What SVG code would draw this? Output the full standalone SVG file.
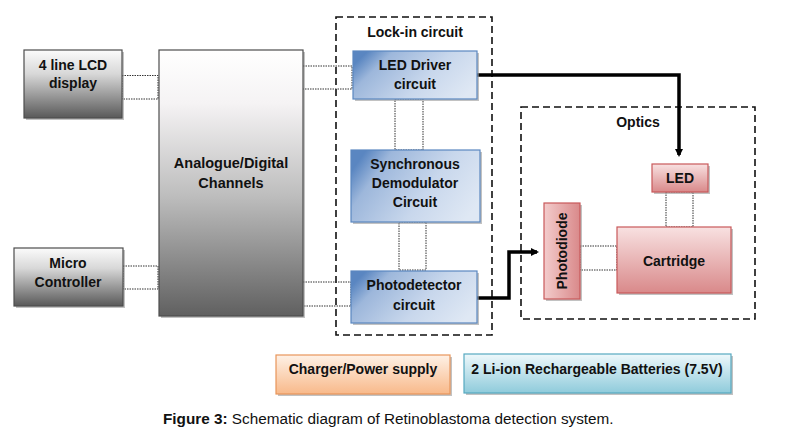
<svg xmlns="http://www.w3.org/2000/svg" width="790" height="433" viewBox="0 0 790 433">
<defs>
<linearGradient id="gGray" x1="0" y1="0" x2="0" y2="1">
<stop offset="0" stop-color="#fbfbfb"/><stop offset="0.35" stop-color="#d8d8d8"/><stop offset="1" stop-color="#595959"/>
</linearGradient>
<linearGradient id="gAD" x1="0" y1="0" x2="0" y2="1">
<stop offset="0" stop-color="#ffffff"/><stop offset="0.2" stop-color="#f5f3f4"/><stop offset="0.55" stop-color="#bdbdbd"/><stop offset="1" stop-color="#606060"/>
</linearGradient>
<linearGradient id="gBlue" x1="0" y1="0.3" x2="1" y2="0.7">
<stop offset="0" stop-color="#5a86c1"/><stop offset="0.18" stop-color="#9db7db"/><stop offset="0.6" stop-color="#c8d7ec"/><stop offset="1" stop-color="#dfe8f4"/>
</linearGradient>
<linearGradient id="gPink" x1="0" y1="0" x2="0" y2="1">
<stop offset="0" stop-color="#f8e1e1"/><stop offset="1" stop-color="#d9898a"/>
</linearGradient>
<linearGradient id="gPinkV" x1="0" y1="0" x2="1" y2="0">
<stop offset="0" stop-color="#f3cccc"/><stop offset="1" stop-color="#d9898a"/>
</linearGradient>
<linearGradient id="gOrange" x1="0" y1="0" x2="0" y2="1">
<stop offset="0" stop-color="#fef1e6"/><stop offset="1" stop-color="#f8b98a"/>
</linearGradient>
<linearGradient id="gCyan" x1="0" y1="0" x2="0" y2="1">
<stop offset="0" stop-color="#eef8fb"/><stop offset="1" stop-color="#8fcbdb"/>
</linearGradient>
<marker id="arr" markerWidth="8" markerHeight="8" refX="6" refY="4" orient="auto" markerUnits="userSpaceOnUse" viewBox="0 0 8 8">
<path d="M0,0 L8,4 L0,8 Z" fill="#000"/>
</marker>
<style>
text{font-family:"Liberation Sans",Arial,sans-serif;font-weight:bold;font-size:14px;fill:#111;text-anchor:middle}
.sh{fill:#9a9a9a;opacity:0.6}
.gray{fill:url(#gGray);stroke:#4d4d4d;stroke-width:1.2}
.ad{fill:url(#gAD);stroke:#4d4d4d;stroke-width:1.2}
.blue{fill:url(#gBlue);stroke:#5a87c0;stroke-width:1.2}
.pink{fill:url(#gPink);stroke:#c9595a;stroke-width:1.2}
.pinkv{fill:url(#gPinkV);stroke:#c9595a;stroke-width:1.2}
.orange{fill:url(#gOrange);stroke:#e8955a;stroke-width:1.2}
.cyan{fill:url(#gCyan);stroke:#56a9c0;stroke-width:1.2}
.dot{fill:none;stroke:#333;stroke-width:1;stroke-dasharray:1.5 1}
.dash{fill:none;stroke:#111;stroke-width:1.6;stroke-dasharray:7 4}
.thick{fill:none;stroke:#000;stroke-width:3.5}
</style>
</defs>
<rect width="790" height="433" fill="#fff"/>

<g id="lockin-group">
<rect class="dash" x="336" y="17" width="156" height="318"/>
<text x="415" y="37">Lock-in circuit</text>
</g>
<g id="optics-group">
<rect class="dash" x="521" y="107" width="234" height="212"/>
<text x="638" y="127">Optics</text>
</g>

<g id="connectors">
<rect class="dot" x="122" y="75.5" width="36" height="23.5"/>
<rect class="dot" x="123" y="266" width="35" height="23"/>
<path class="dot" d="M303,66 H352 V89 H303"/>
<path class="dot" d="M303,282 H351 V306 H303"/>
<rect class="dot" x="395" y="99" width="28" height="51"/>
<rect class="dot" x="399" y="222" width="27" height="48"/>
<rect class="dot" x="666" y="192" width="27" height="35"/>
<rect class="dot" x="580" y="246" width="37" height="24"/>
<path class="thick" d="M477,75 H679 V155" marker-end="url(#arr)"/>
<path class="thick" d="M477,298 H509 V252 H537" marker-end="url(#arr)"/>
</g>

<g id="lcd">
<rect class="sh" x="26" y="52" width="98" height="68"/>
<rect class="gray" x="24" y="50" width="98" height="68"/>
<text x="73" y="70">4 line LCD</text>
<text x="73" y="88">display</text>
</g>
<g id="micro">
<rect class="sh" x="16" y="250" width="109" height="58"/>
<rect class="gray" x="14" y="248" width="109" height="58"/>
<text x="68" y="268">Micro</text>
<text x="68" y="287">Controller</text>
</g>
<g id="analogue">
<rect class="sh" x="161" y="52" width="144" height="266"/>
<rect class="ad" x="159" y="50" width="144" height="266"/>
<text x="231" y="168" style="font-size:14.5px">Analogue/Digital</text>
<text x="231" y="188" style="font-size:14.5px">Channels</text>
</g>
<g id="led-driver">
<rect class="sh" x="355" y="53" width="124" height="48"/>
<rect class="blue" x="353" y="51" width="124" height="48"/>
<text x="415" y="70">LED Driver</text>
<text x="415" y="89">circuit</text>
</g>
<g id="sync">
<rect class="sh" x="353" y="152" width="129" height="72"/>
<rect class="blue" x="351" y="150" width="129" height="72"/>
<text x="415" y="169">Synchronous</text>
<text x="415" y="188">Demodulator</text>
<text x="415" y="207">Circuit</text>
</g>
<g id="photodetector">
<rect class="sh" x="353" y="273" width="126" height="52"/>
<rect class="blue" x="351" y="271" width="126" height="52"/>
<text x="414" y="290">Photodetector</text>
<text x="414" y="310">circuit</text>
</g>
<g id="led">
<rect class="sh" x="654" y="166" width="56" height="28"/>
<rect class="pink" x="652" y="164" width="56" height="28"/>
<text x="680" y="183">LED</text>
</g>
<g id="photodiode">
<rect class="sh" x="546" y="205" width="36" height="96"/>
<rect class="pinkv" x="544" y="203" width="36" height="96"/>
<text x="0" y="0" transform="translate(567,251) rotate(-90)">Photodiode</text>
</g>
<g id="cartridge">
<rect class="sh" x="619" y="229" width="114" height="66"/>
<rect class="pink" x="617" y="227" width="114" height="66"/>
<text x="674" y="266">Cartridge</text>
</g>
<g id="charger">
<rect class="sh" x="278" y="357" width="174" height="39"/>
<rect class="orange" x="276" y="355" width="174" height="39"/>
<text x="363" y="374">Charger/Power supply</text>
</g>
<g id="batteries">
<rect class="sh" x="466" y="356" width="267" height="39"/>
<rect class="cyan" x="464" y="354" width="267" height="39"/>
<text x="597" y="374">2 Li-ion Rechargeable Batteries (7.5V)</text>
</g>

<text x="163" y="424" style="text-anchor:start;font-weight:normal;font-size:15.3px;fill:#111"><tspan font-weight="bold">Figure 3:</tspan> Schematic diagram of Retinoblastoma detection system.</text>
</svg>
